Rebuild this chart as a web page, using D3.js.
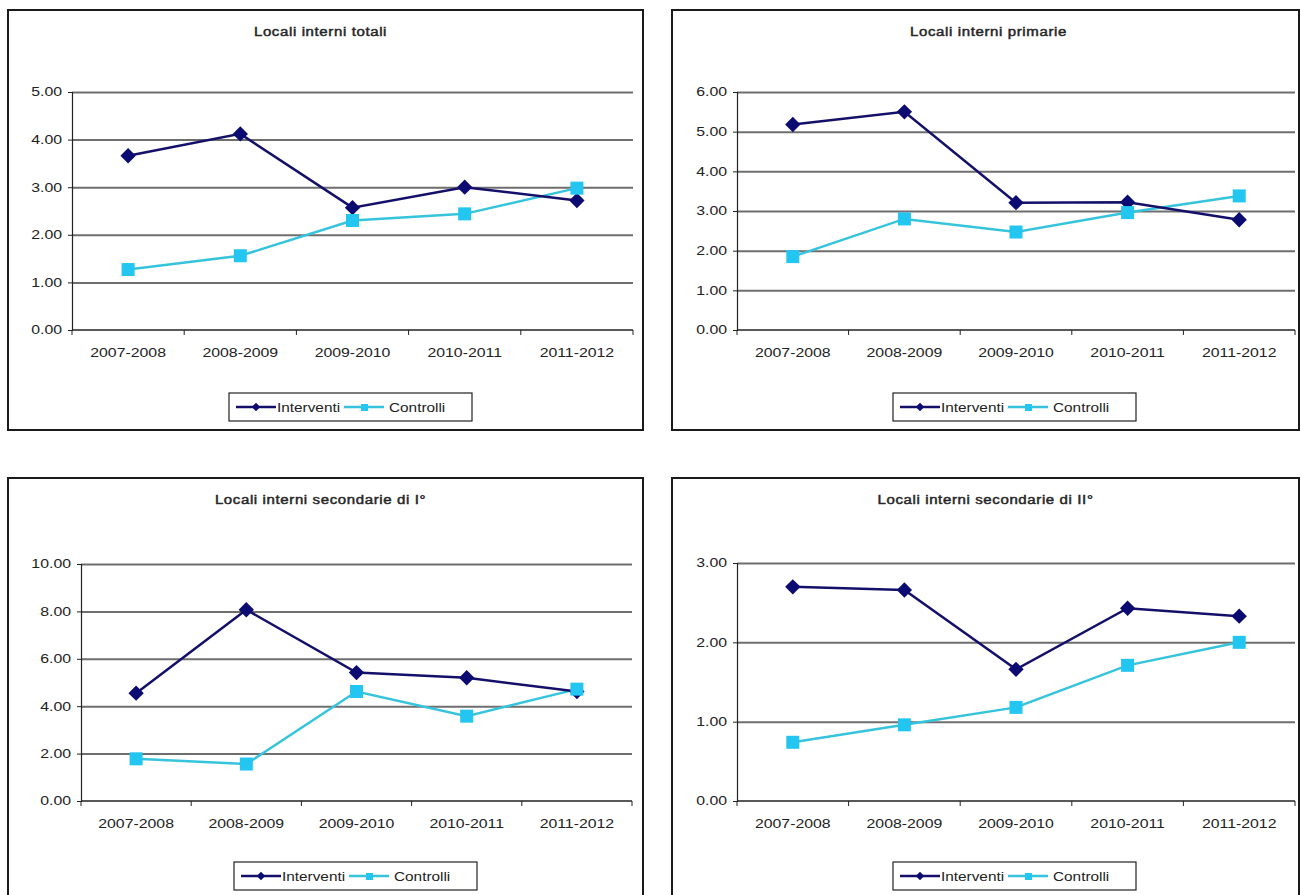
<!DOCTYPE html>
<html>
<head>
<meta charset="utf-8">
<script src="https://cdn.jsdelivr.net/npm/d3@7"></script>
<style>
  html, body { margin: 0; padding: 0; background: #fff; }
  svg { display: block; }
  text { font-family: Arial, "Liberation Sans", sans-serif; fill: #222; }
</style>
</head>
<body>
<svg id="chart" width="1301" height="895"></svg>
<script>
// School years on the category axis
const categories = ["2007-2008", "2008-2009", "2009-2010", "2010-2011", "2011-2012"];
const seriesNames = ["Interventi", "Controlli"];

// Panel titles
const titles = [
  "Locali interni totali",
  "Locali interni primarie",
  "Locali interni secondarie di I°",
  "Locali interni secondarie di II°"
];

// Values per panel
const interventiTotali     = [3.66, 4.12, 2.57, 3.00, 2.72];
const controlliTotali      = [1.27, 1.56, 2.30, 2.44, 2.98];
const interventiPrimarie   = [5.18, 5.50, 3.21, 3.22, 2.78];
const controlliPrimarie    = [1.85, 2.80, 2.47, 2.96, 3.38];
const interventiSecondI    = [4.55, 8.07, 5.42, 5.20, 4.62];
const controlliSecondI     = [1.78, 1.56, 4.62, 3.58, 4.72];
const interventiSecondII   = [2.70, 2.66, 1.66, 2.43, 2.33];
const controlliSecondII    = [0.74, 0.96, 1.18, 1.71, 2.00];

// Value-axis ticks per panel
const ticksTotali   = [0, 1, 2, 3, 4, 5];
const ticksPrimarie = [0, 1, 2, 3, 4, 5, 6];
const ticksSecondI  = [0, 2, 4, 6, 8, 10];
const ticksSecondII = [0, 1, 2, 3];

const colors = { Interventi: "#0b0b72", Controlli: "#22c6f0" };
const lineColors = { Interventi: "#14106a", Controlli: "#36c4dc" };

// Layout of the four chart boxes
const panels = [
  { title: titles[0], a: interventiTotali,   b: controlliTotali,   ticks: ticksTotali,
    frame: [8, 10, 635, 420],  plot: [72, 92, 633, 330],  legend: [229, 393], tdx: -5 },
  { title: titles[1], a: interventiPrimarie, b: controlliPrimarie, ticks: ticksPrimarie,
    frame: [672, 10, 627, 420], plot: [737, 92, 1295, 330], legend: [893, 393], tdx: 3 },
  { title: titles[2], a: interventiSecondI,  b: controlliSecondI,  ticks: ticksSecondI,
    frame: [8, 478, 635, 430],  plot: [81, 564, 632, 801],  legend: [234, 862], tdx: -5 },
  { title: titles[3], a: interventiSecondII, b: controlliSecondII, ticks: ticksSecondII,
    frame: [672, 478, 627, 430], plot: [737, 563, 1295, 801], legend: [893, 862], tdx: 0 }
];

const svg = d3.select("#chart");
const SX = 1.32; // horizontal text stretch

function stretchedText(g, x, y, str, opts = {}) {
  const t = g.append("text")
    .attr("transform", `translate(${x},${y}) scale(${opts.sx || SX},1)`)
    .attr("text-anchor", opts.anchor || "start")
    .attr("font-size", opts.size || 12)
    .text(str);
  if (opts.weight) t.attr("font-weight", opts.weight);
  if (opts.spacing) t.attr("letter-spacing", opts.spacing);
  return t;
}

const diamond = d3.symbol().type(d3.symbolDiamond2 || d3.symbolDiamond).size(150);

panels.forEach(p => {
  const [fx, fy, fw, fh] = p.frame;
  const [x0, y0, x1, y1] = p.plot;
  const g = svg.append("g");

  g.append("rect")
    .attr("x", fx).attr("y", fy).attr("width", fw).attr("height", fh)
    .attr("fill", "#fff").attr("stroke", "#1a1a1a").attr("stroke-width", 2);

  // semi-bold title: regular face with a thin outline
  stretchedText(g, fx + fw / 2 + p.tdx, fy + 26, p.title,
    { anchor: "middle", size: 12, sx: 1.25, spacing: 0.5 })
    .attr("fill", "#2a2a2a").attr("stroke", "#2a2a2a").attr("stroke-width", 0.45);

  const x = d3.scaleBand().domain(categories).range([x0, x1]).padding(0);
  const y = d3.scaleLinear().domain([0, d3.max(p.ticks)]).range([y1, y0]);

  // horizontal gridlines
  g.append("g")
    .attr("transform", `translate(${x0},0)`)
    .call(d3.axisLeft(y).tickValues(p.ticks.filter(v => v > 0)).tickSize(-(x1 - x0)).tickFormat(""))
    .call(s => s.select(".domain").remove())
    .call(s => s.selectAll(".tick line").attr("stroke", "#6e6e6e").attr("stroke-width", 2));

  // value axis
  const yAxis = g.append("g")
    .attr("transform", `translate(${x0},0)`)
    .call(d3.axisLeft(y).tickValues(p.ticks).tickSize(4).tickPadding(3).tickFormat(d3.format(".2f")));
  yAxis.select(".domain").attr("stroke", "#222").attr("stroke-width", 1.2);
  yAxis.selectAll(".tick line").attr("stroke", "#222");
  yAxis.selectAll(".tick text").each(function () {
    d3.select(this)
      .attr("transform", `translate(-10,0) scale(${SX},1)`).attr("x", 0)
      .attr("font-size", 12).attr("fill", "#2a2a2a")
      .attr("font-family", "Arial, 'Liberation Sans', sans-serif");
  });

  // category axis
  const xAxis = g.append("g").attr("transform", `translate(0,${y1})`);
  xAxis.append("line").attr("x1", x0).attr("x2", x1).attr("stroke", "#222").attr("stroke-width", 1.5);
  const bounds = categories.map(c => x(c)).concat([x1]);
  xAxis.selectAll("line.tk").data(bounds).join("line").attr("class", "tk")
    .attr("x1", d => d).attr("x2", d => d).attr("y1", 0).attr("y2", 5)
    .attr("stroke", "#222");
  categories.forEach(c => {
    stretchedText(xAxis, x(c) + x.bandwidth() / 2, 27, c, { anchor: "middle", size: 12 })
      .attr("fill", "#2a2a2a");
  });

  // series
  const cx = c => x(c) + x.bandwidth() / 2;
  const line = d3.line().x((d, i) => cx(categories[i])).y(d => y(d));

  g.append("path").datum(p.b).attr("d", line)
    .attr("fill", "none").attr("stroke", lineColors.Controlli).attr("stroke-width", 2.5);
  g.append("path").datum(p.a).attr("d", line)
    .attr("fill", "none").attr("stroke", lineColors.Interventi).attr("stroke-width", 2.5);

  g.selectAll("path.mk-a").data(p.a).join("path").attr("class", "mk-a")
    .attr("transform", (d, i) => `translate(${cx(categories[i])},${y(d)})`)
    .attr("d", diamond).attr("fill", colors.Interventi);
  g.selectAll("rect.mk-b").data(p.b).join("rect").attr("class", "mk-b")
    .attr("x", (d, i) => cx(categories[i]) - 6.5).attr("y", d => y(d) - 6.5)
    .attr("width", 13).attr("height", 13).attr("fill", colors.Controlli);

  // legend
  const [lx, ly] = p.legend;
  const lg = g.append("g").attr("transform", `translate(${lx},${ly})`);
  lg.append("rect").attr("width", 243).attr("height", 28)
    .attr("fill", "#fff").attr("stroke", "#222").attr("stroke-width", 1.2);
  const items = [
    { name: seriesNames[0], x: 7, tx: 48 },
    { name: seriesNames[1], x: 115, tx: 160 }
  ];
  items.forEach(it => {
    lg.append("line").attr("x1", it.x).attr("x2", it.x + 40).attr("y1", 14).attr("y2", 14)
      .attr("stroke", lineColors[it.name]).attr("stroke-width", 2.5);
    if (it.name === "Interventi") {
      lg.append("path").attr("transform", `translate(${it.x + 20},14)`)
        .attr("d", d3.symbol().type(d3.symbolDiamond2 || d3.symbolDiamond).size(45))
        .attr("fill", colors.Interventi);
    } else {
      lg.append("rect").attr("x", it.x + 17).attr("y", 11).attr("width", 7).attr("height", 7)
        .attr("fill", colors.Controlli);
    }
    stretchedText(lg, it.tx, 18.5, it.name, { size: 12, sx: 1.28 });
  });
});
</script>
</body>
</html>
